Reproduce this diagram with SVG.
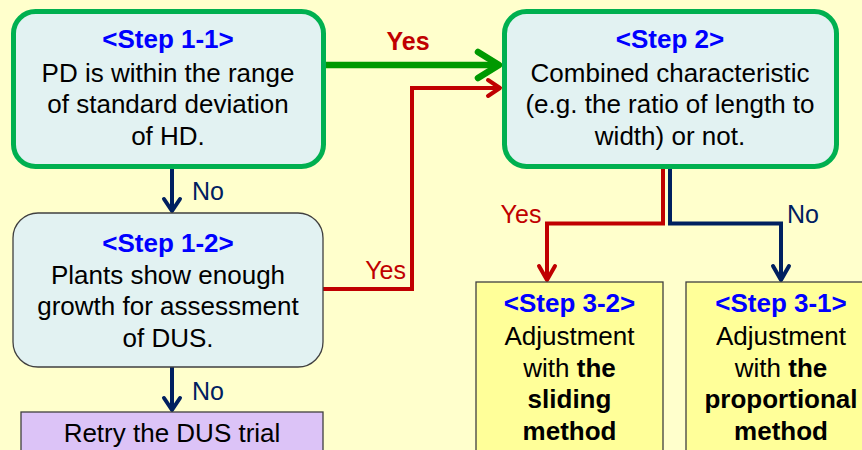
<svg xmlns="http://www.w3.org/2000/svg" width="862" height="450" viewBox="0 0 862 450">
  <defs>
    <style>
      text { font-family: "Liberation Sans", Arial, sans-serif; font-size: 26px; fill: #000; text-anchor: middle; }
      .step { font-weight: bold; fill: #0000FF; }
      .b { font-weight: bold; }
      .decision { fill: #E2F2F2; stroke: #00B050; stroke-width: 5; }
      .question { fill: #E2F2F2; stroke: #404040; stroke-width: 1.3; }
      .retry { fill: #DCC3F7; stroke: #404040; stroke-width: 1.3; }
      .result { fill: #FFFF99; stroke: #404040; stroke-width: 1.3; }
      .lbl { font-size: 25px; }
      .yes { fill: #C00000; }
      .no { fill: #002060; }
      .wire { fill: none; stroke-linejoin: miter; }
      .head { fill: none; stroke-linecap: round; stroke-linejoin: round; }
      .red { stroke: #C00000; stroke-width: 4; }
      .navy { stroke: #002060; stroke-width: 4; }
      .green { stroke: #009900; stroke-width: 6.5; }
    </style>
  </defs>

  <!-- page background -->
  <rect x="0" y="0" width="862" height="450" fill="#FFFFCC"/>

  <!-- connectors -->
  <g id="connectors">
    <!-- Step 1-1 -> Step 2 (Yes) -->
    <line class="wire green" x1="326" y1="65" x2="498" y2="65"/>
    <polyline class="head green" points="478,52 499,65 478,78"/>
    <text class="lbl b yes" x="408" y="50">Yes</text>

    <!-- Step 1-1 -> Step 1-2 (No) -->
    <line class="wire navy" x1="172" y1="168" x2="172" y2="210"/>
    <polyline class="head navy" points="164,199 172,211 180,199"/>
    <text class="lbl no" x="208" y="200">No</text>

    <!-- Step 1-2 -> Step 2 (Yes) -->
    <polyline class="wire red" points="323,289 412,289 412,88 499,88"/>
    <polyline class="head red" points="488,80 500,88 488,96"/>
    <text class="lbl yes" x="406" y="279" style="text-anchor:end">Yes</text>

    <!-- Step 1-2 -> Retry (No) -->
    <line class="wire navy" x1="172" y1="367" x2="172" y2="409"/>
    <polyline class="head navy" points="164,398 172,410 180,398"/>
    <text class="lbl no" x="208" y="400">No</text>

    <!-- Step 2 -> Step 3-2 (Yes) -->
    <polyline class="wire red" points="663,168 663,223.5 547,223.5 547,279"/>
    <polyline class="head red" points="539,266 547,280 555,266"/>
    <text class="lbl yes" x="521" y="223">Yes</text>

    <!-- Step 2 -> Step 3-1 (No) -->
    <polyline class="wire navy" points="670,168 670,223.5 781,223.5 781,279"/>
    <polyline class="head navy" points="773,266 781,280 789,266"/>
    <text class="lbl no" x="803" y="223">No</text>
  </g>

  <g id="step-1-1">
    <rect class="decision" x="13.5" y="11.5" width="310" height="155" rx="22"/>
    <text class="step" x="168" y="48">&lt;Step 1-1&gt;</text>
    <text x="168" y="81.5">PD is within the range</text>
    <text x="168" y="113">of standard deviation</text>
    <text x="168" y="145">of HD.</text>
  </g>

  <g id="step-2">
    <rect class="decision" x="504.5" y="11.5" width="332" height="155" rx="22"/>
    <text class="step" x="670" y="48">&lt;Step 2&gt;</text>
    <text x="670" y="81.5">Combined characteristic</text>
    <text x="670" y="113">(e.g. the ratio of length to</text>
    <text x="670" y="145">width) or not.</text>
  </g>

  <g id="step-1-2">
    <rect class="question" x="13" y="213" width="310" height="154" rx="25"/>
    <text class="step" x="168" y="252">&lt;Step 1-2&gt;</text>
    <text x="168" y="283.5">Plants show enough</text>
    <text x="168" y="315">growth for assessment</text>
    <text x="168" y="347">of DUS.</text>
  </g>

  <g id="retry">
    <rect class="retry" x="21" y="412" width="302" height="50"/>
    <text x="172" y="442">Retry the DUS trial</text>
  </g>

  <g id="step-3-2">
    <rect class="result" x="476" y="282" width="187" height="180"/>
    <text class="step" x="569.5" y="311.5">&lt;Step 3-2&gt;</text>
    <text x="569.5" y="344.5">Adjustment</text>
    <text x="569.5" y="376.5">with <tspan class="b">the</tspan></text>
    <text class="b" x="569.5" y="408">sliding</text>
    <text class="b" x="569.5" y="440">method</text>
  </g>

  <g id="step-3-1">
    <rect class="result" x="686" y="282" width="190" height="180"/>
    <text class="step" x="781" y="311.5">&lt;Step 3-1&gt;</text>
    <text x="781" y="344.5">Adjustment</text>
    <text x="781" y="376.5">with <tspan class="b">the</tspan></text>
    <text class="b" x="781" y="408">proportional</text>
    <text class="b" x="781" y="440">method</text>
  </g>
</svg>
